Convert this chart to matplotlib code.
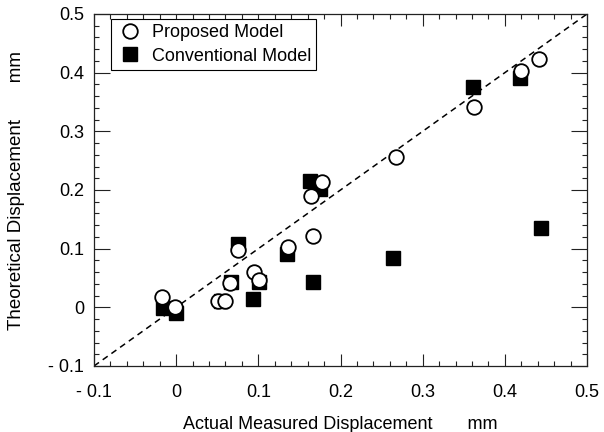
import matplotlib
matplotlib.use("Agg")
import matplotlib.pyplot as plt
from matplotlib.ticker import MultipleLocator, FuncFormatter

plt.rcParams['font.family'] = ['Liberation Sans', 'DejaVu Sans']

# Proposed model (open circles)
prop_x = [0.442, 0.420, 0.362, 0.267, 0.178, 0.164, 0.166, 0.136, 0.075, 0.095,
          0.101, 0.066, -0.017, -0.001, 0.051, 0.059]
prop_y = [0.423, 0.402, 0.341, 0.256, 0.214, 0.189, 0.121, 0.102, 0.097, 0.060,
          0.046, 0.041, 0.017, 0.001, 0.011, 0.011]

# Conventional model (filled squares)
conv_x = [0.361, 0.419, 0.163, 0.175, 0.444, 0.264, 0.166, 0.094, 0.135, 0.075,
          0.067, 0.101, 0.054, -0.016, 0.000]
conv_y = [0.376, 0.391, 0.215, 0.201, 0.136, 0.084, 0.044, 0.014, 0.091, 0.108,
          0.044, 0.043, 0.011, -0.001, -0.009]

ref_line = [-0.1, 0.5]
ticks = [-0.1, 0.0, 0.1, 0.2, 0.3, 0.4, 0.5]

fig = plt.figure(figsize=(6.04, 4.32), dpi=100)
ax = fig.add_axes([94/604, 1-366/432, (587-94)/604, (366-14)/432])

ax.plot(ref_line, ref_line, color='black', linestyle=(0, (4, 3)), linewidth=1.1, zorder=1)
ax.plot(conv_x, conv_y, linestyle='none', marker='s', markersize=10,
        markerfacecolor='black', markeredgecolor='black', label='Conventional Model', zorder=2)
ax.plot(prop_x, prop_y, linestyle='none', marker='o', markersize=10.5,
        markerfacecolor='white', markeredgecolor='black', markeredgewidth=1.3,
        label='Proposed Model', zorder=3)

ax.set_xlim(-0.1, 0.5)
ax.set_ylim(-0.1, 0.5)
ax.set_xticks(ticks)
ax.set_yticks(ticks)
ax.xaxis.set_minor_locator(MultipleLocator(0.02))
ax.yaxis.set_minor_locator(MultipleLocator(0.02))

def fmt(v, pos):
    if abs(v) < 1e-9:
        return '0'
    if v < 0:
        return '- %g' % abs(v)
    return '%g' % v

ax.xaxis.set_major_formatter(FuncFormatter(fmt))
ax.yaxis.set_major_formatter(FuncFormatter(fmt))

ax.tick_params(which='both', direction='in', top=True, right=True, colors='#222222',
               labelcolor='black', labelsize=13, width=0.8)
ax.tick_params(axis='x', which='major', length=8.5, pad=13)
ax.tick_params(axis='y', which='major', length=11.5, pad=7)
ax.tick_params(which='minor', length=3.6)
for s in ax.spines.values():
    s.set_color('#222222')
    s.set_linewidth(0.9)

ax.set_xlabel('Actual Measured Displacement       mm', fontsize=13, labelpad=11)
ax.set_ylabel('Theoretical Displacement       mm', fontsize=13.5, labelpad=17)

handles, labels = ax.get_legend_handles_labels()
leg = ax.legend(handles[::-1], labels[::-1], loc='upper left', bbox_to_anchor=(0.0345, 0.986),
                frameon=True, fancybox=False, framealpha=1, edgecolor='black',
                fontsize=13, handletextpad=0.45, borderpad=0.3, labelspacing=0.35,
                handlelength=1.5, borderaxespad=0)
leg.get_frame().set_linewidth(0.8)

fig.savefig('out.png', dpi=100)
